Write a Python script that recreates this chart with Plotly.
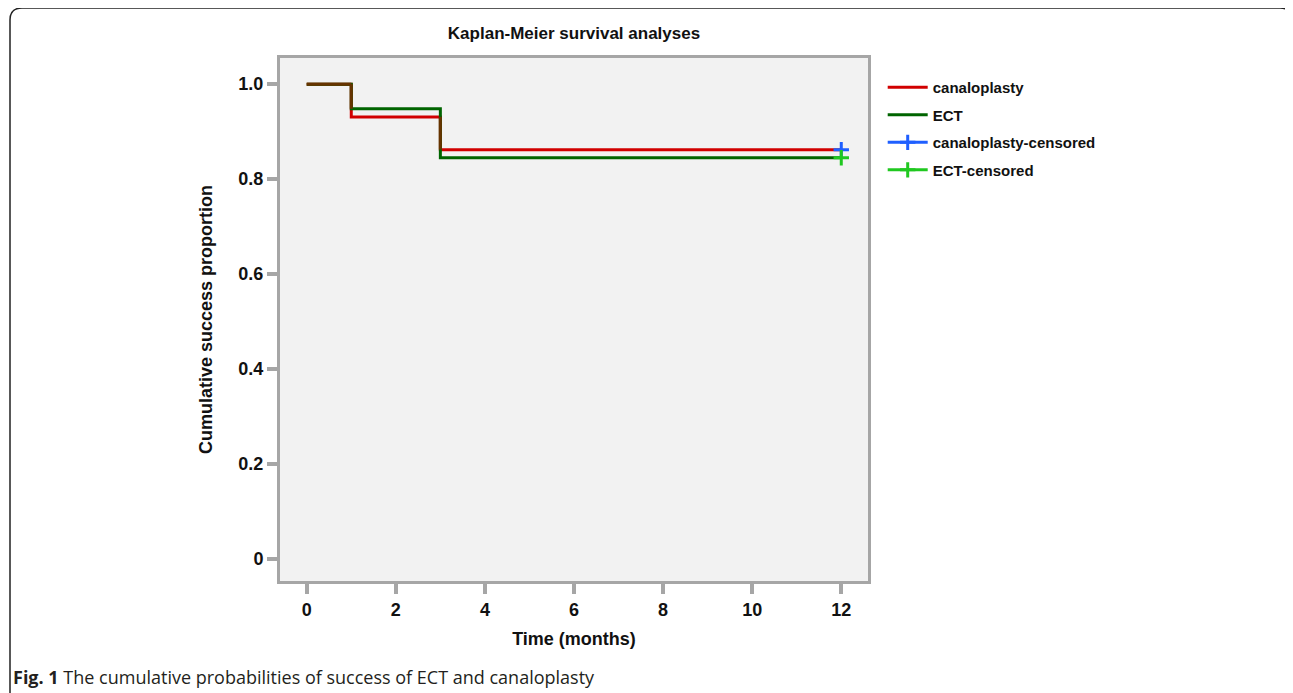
import plotly.graph_objects as go

# ---- data ----
times = [0, 1, 3, 12]
canaloplasty = [1.0, 0.931, 0.862, 0.862]
ect = [1.0, 0.948, 0.845, 0.845]
censor_time = [12]
canaloplasty_censored = [0.862]
ect_censored = [0.845]
x_ticks = [0, 2, 4, 6, 8, 10, 12]
y_ticks = [0, 0.2, 0.4, 0.6, 0.8, 1.0]
y_tick_text = ["0", "0.2", "0.4", "0.6", "0.8", "1.0"]

RED = "#d10000"
DKGREEN = "#006400"
BROWN = "#663300"
BLUE = "#1f5fff"
LTGREEN = "#20c820"
AXIS = "#a6a6a6"

# overlap (where the two curves coincide) drawn in brown, computed from data
ov_x, ov_y = [], []
for i in range(len(times) - 1):
    if canaloplasty[i] == ect[i]:
        ov_x += [times[i], times[i + 1], None]
        ov_y += [canaloplasty[i], canaloplasty[i], None]
    a = sorted([canaloplasty[i], canaloplasty[i + 1]])
    b = sorted([ect[i], ect[i + 1]])
    lo, hi = max(a[0], b[0]), min(a[1], b[1])
    if hi > lo:
        ov_x += [times[i + 1], times[i + 1], None]
        ov_y += [hi, lo, None]

fig = go.Figure()
fig.add_trace(go.Scatter(x=times, y=canaloplasty, mode="lines", line=dict(color=RED, width=3, shape="hv"),
                         name="<b>canaloplasty</b>", legendgroup="a"))
fig.add_trace(go.Scatter(x=times, y=ect, mode="lines", line=dict(color=DKGREEN, width=3, shape="hv"),
                         name="<b>ECT</b>", legendgroup="b"))
fig.add_trace(go.Scatter(x=ov_x, y=ov_y, mode="lines", line=dict(color=BROWN, width=3),
                         showlegend=False, hoverinfo="skip"))
fig.add_trace(go.Scatter(x=censor_time, y=canaloplasty_censored, mode="lines+markers",
                         line=dict(color=BLUE, width=3),
                         marker=dict(symbol="cross-thin", size=11, line=dict(color=BLUE, width=3)),
                         name="<b>canaloplasty-censored</b>", legendgroup="c"))
fig.add_trace(go.Scatter(x=censor_time, y=ect_censored, mode="lines+markers",
                         line=dict(color=LTGREEN, width=3),
                         marker=dict(symbol="cross-thin", size=11, line=dict(color=LTGREEN, width=3)),
                         name="<b>ECT-censored</b>", legendgroup="d"))

FONT = "Liberation Sans, Arial, sans-serif"
tickfont = dict(family=FONT, size=18, color="#111111")
titlefont = dict(family=FONT, size=18, color="#111111")

# page shows the figure offset by ~8px (body margin); figure is sized to compensate
OFF = 8
W, H = 1293 - OFF, 693 - OFF
L, R, T, B = 280 - OFF, 868 - OFF, 58 - OFF, 581 - OFF  # plot area edges in figure px

fig.update_layout(
    width=W, height=H,
    margin=dict(l=L, r=W - R, t=T, b=H - B),
    paper_bgcolor="white", plot_bgcolor="#f2f2f2",
    font=dict(family=FONT, color="#111111"),
    title=dict(text="<b>Kaplan-Meier survival analyses</b>", x=0.5, xref="paper", xanchor="center",
               y=1 - (33 - OFF) / H, yanchor="middle", font=dict(family=FONT, size=17)),
    showlegend=True,
    legend=dict(x=1.025, y=0.975, xanchor="left", yanchor="top", bgcolor="rgba(0,0,0,0)",
                font=dict(family=FONT, size=15, color="#111111"),
                tracegroupgap=5, itemwidth=40),
    xaxis=dict(range=[-0.6, 12.6], tickvals=x_ticks, ticktext=[f"<b>{v}</b>" for v in x_ticks],
               showgrid=False, zeroline=False, showline=True, linecolor=AXIS, linewidth=3, mirror=True,
               ticks="outside", ticklen=10, tickwidth=4, tickcolor=AXIS, tickfont=tickfont,
               title=dict(text="<b>Time (months)</b>", font=titlefont, standoff=14)),
    yaxis=dict(range=[-0.046, 1.055], tickvals=y_ticks, ticktext=[f"<b>{t}</b>" for t in y_tick_text],
               showgrid=False, zeroline=False, showline=True, linecolor=AXIS, linewidth=3, mirror=True,
               ticks="outside", ticklen=10, tickwidth=4, tickcolor=AXIS, tickfont=tickfont,
               title=dict(text="<b>Cumulative success proportion</b>", font=titlefont, standoff=22)),
)


def px(x):
    return (x - OFF - L) / (R - L)


def py(y):
    return (B - (y - OFF)) / (B - T)


# caption
fig.add_annotation(text="<b>Fig. 1</b> The cumulative probabilities of success of ECT and canaloplasty",
                   xref="paper", yref="paper", x=px(11), y=py(677),
                   xanchor="left", yanchor="middle", showarrow=False,
                   font=dict(family="Open Sans, Noto Sans, sans-serif", size=18, color="#231f20"))

# outer rounded frame
path = (f"M {px(10)},{py(700)} L {px(10)},{py(20)} Q {px(10)},{py(8)} {px(22)},{py(8)} "
        f"L {px(1280)},{py(8)} Q {px(1292)},{py(8)} {px(1292)},{py(20)}")
fig.add_shape(type="path", path=path, xref="paper", yref="paper",
              line=dict(color="#222222", width=1.5))

fig.write_html("out.html")
